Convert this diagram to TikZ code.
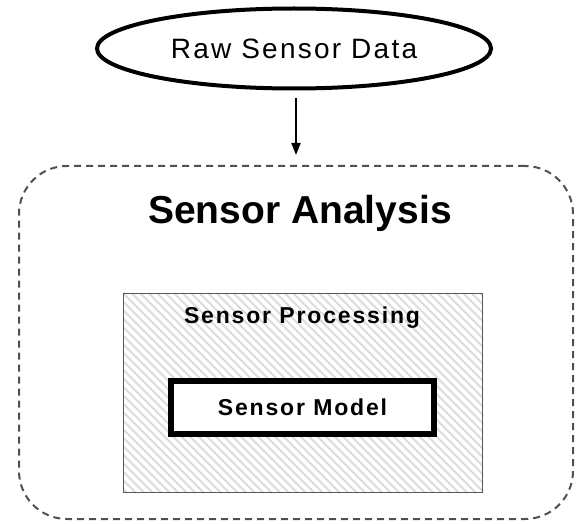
\documentclass[tikz,border=0pt]{standalone}
\usepackage{fontspec}
\setmainfont{Liberation Sans}
\newfontfamily\spacedfont[LetterSpace=8]{Liberation Sans}
\usetikzlibrary{shapes.geometric,arrows.meta}
\definecolor{dashgray}{HTML}{505050}
\definecolor{boxgray}{HTML}{5A5A5A}
\definecolor{hatchgray}{HTML}{DCDCDC}
\tikzset{
  rawnode/.style={ellipse, draw=black, line width=4pt, minimum width=394pt, minimum height=80pt, inner sep=0pt, font=\spacedfont\fontsize{28}{32}\selectfont},
  analysisbox/.style={draw=dashgray, line width=2pt, dash pattern=on 7pt off 5pt, rounded corners=48pt, minimum width=554pt, minimum height=353pt, inner sep=0pt},
  titletext/.style={font=\bfseries\fontsize{39}{44}\selectfont, inner sep=0pt},
  procbox/.style={draw=boxgray, line width=1.5pt, minimum width=359pt, minimum height=199pt, inner sep=0pt},
  proctext/.style={font=\spacedfont\bfseries\fontsize{23}{26}\selectfont, inner sep=0pt},
  modelbox/.style={draw=black, line width=6pt, fill=white, minimum width=263pt, minimum height=53pt, inner sep=0pt, font=\spacedfont\bfseries\fontsize{23}{26}\selectfont},
  flow/.style={draw=black, line width=2pt, -{Triangle[length=12pt,width=9pt]}},
  hatch/.style={draw=hatchgray, line width=2pt}
}
\begin{document}
\begin{tikzpicture}[x=1pt,y=-1pt]
\useasboundingbox (0,0) rectangle (576,524);
\node[rawnode] (raw) at (294,48.5) {Raw Sensor Data};
\node[analysisbox] (analysis) at (296,342.5) {};
\node[titletext] (title) at (300,213) {Sensor Analysis};
\node[procbox] (proc) at (303,393) {};
\begin{scope}
  \clip (proc.south west) rectangle (proc.north east);
  \foreach \c in {-374,-365.5,...,200} {
    \draw[hatch] (\c+293,293) -- (\c+493,493);
  }
\end{scope}
\node[procbox] at (proc.center) {};
\node[proctext] (proclabel) at (302,318) {Sensor Processing};
\node[modelbox] (model) at (302.5,407.5) {Sensor Model};
\draw[flow, shorten <=8pt, shorten >=10pt] (raw.south -| analysis.north) -- (analysis.north);
\end{tikzpicture}
\end{document}
